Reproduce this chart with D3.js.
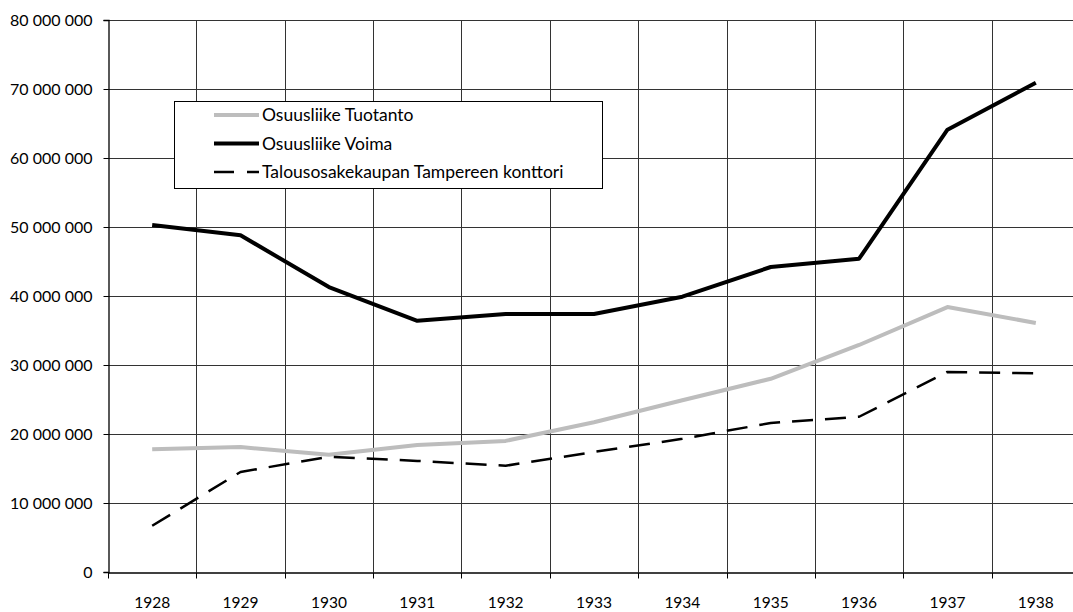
<!DOCTYPE html>
<html>
<head>
<meta charset="utf-8">
<script src="https://cdn.jsdelivr.net/npm/d3@7"></script>
<style>
  body { margin: 0; background: #fff; }
  text { font-family: Lato, "Open Sans", sans-serif; fill: #000; }
</style>
</head>
<body>
<div id="chart"></div>
<script>
var years = [1928, 1929, 1930, 1931, 1932, 1933, 1934, 1935, 1936, 1937, 1938];
var tuotanto = [17.8, 18.1, 17.0, 18.4, 19.0, 21.7, 24.9, 28.0, 32.9, 38.4, 36.1].map(function(v){ return v * 1e6; });
var voima = [50.3, 48.8, 41.3, 36.4, 37.4, 37.4, 39.9, 44.2, 45.4, 64.1, 70.9].map(function(v){ return v * 1e6; });
var talous = [6.7, 14.5, 16.7, 16.1, 15.4, 17.4, 19.3, 21.6, 22.5, 29.0, 28.8].map(function(v){ return v * 1e6; });
var seriesNames = ["Osuusliike Tuotanto", "Osuusliike Voima", "Talousosakekaupan Tampereen konttori"];
var yTicks = [0, 10e6, 20e6, 30e6, 40e6, 50e6, 60e6, 70e6, 80e6];

var width = 1073, height = 612;
var mLeft = 108, mRight = 1080, mTop = 20, mBottom = 572;

var svg = d3.select("#chart").append("svg")
	.attr("width", width)
	.attr("height", height);

var x = d3.scaleBand().domain(years).range([mLeft, mRight]);
var y = d3.scaleLinear().domain([0, 80e6]).range([mBottom, mTop]);

var fmt = function(d) { return d3.format(",")(d).replace(/,/g, " "); };

// horizontal grid
svg.append("g").selectAll("line")
	.data(yTicks.slice(1))
	.enter().append("line")
	.attr("x1", mLeft).attr("x2", mRight)
	.attr("y1", function(d){ return Math.round(y(d)) + 0.5; })
	.attr("y2", function(d){ return Math.round(y(d)) + 0.5; })
	.attr("stroke", "#333").attr("stroke-width", 1);

// vertical grid
svg.append("g").selectAll("line")
	.data(years.slice(1))
	.enter().append("line")
	.attr("x1", function(d){ return Math.round(x(d)) + 0.5; })
	.attr("x2", function(d){ return Math.round(x(d)) + 0.5; })
	.attr("y1", mTop).attr("y2", mBottom)
	.attr("stroke", "#333").attr("stroke-width", 1);

// y axis
var yAxis = svg.append("g")
	.attr("transform", "translate(" + (mLeft + 0.5) + ",0)")
	.call(d3.axisLeft(y).tickValues(yTicks).tickFormat(fmt).tickSize(5).tickPadding(11));
yAxis.select(".domain").attr("stroke", "#000").attr("stroke-width", 1.3);
yAxis.selectAll(".tick line").attr("stroke", "#000");
yAxis.selectAll("text").style("font-size", "16px").style("font-family", "Lato, sans-serif");

// x axis
var xAxis = svg.append("g")
	.attr("transform", "translate(0," + (mBottom + 0.5) + ")")
	.call(d3.axisBottom(x).tickSize(0).tickPadding(24));
xAxis.select(".domain").attr("stroke", "#000").attr("stroke-width", 1.3);
xAxis.selectAll("text").style("font-size", "15.5px").style("font-family", "Lato, sans-serif");
xAxis.selectAll(".sep")
	.data(years.concat([null]))
	.enter().append("line")
	.attr("x1", function(d, i){ return Math.round(mLeft + i * x.step()) + 0.5; })
	.attr("x2", function(d, i){ return Math.round(mLeft + i * x.step()) + 0.5; })
	.attr("y1", 0).attr("y2", 6)
	.attr("stroke", "#000");

var line = d3.line()
	.x(function(d, i){ return x(years[i]) + x.bandwidth() / 2; })
	.y(function(d){ return y(d); });

var styles = [
	{ data: tuotanto, color: "#bdbdbd", w: 4, dash: null },
	{ data: voima, color: "#000", w: 4, dash: null },
	{ data: talous, color: "#000", w: 2.5, dash: "21,12" }
];

styles.forEach(function(s) {
	svg.append("path")
		.attr("d", line(s.data))
		.attr("fill", "none")
		.attr("stroke", s.color)
		.attr("stroke-width", s.w)
		.attr("stroke-linejoin", "round")
		.attr("stroke-dasharray", s.dash);
});

// legend
var lg = svg.append("g");
lg.append("rect")
	.attr("x", 174.5).attr("y", 101.5)
	.attr("width", 428).attr("height", 87)
	.attr("fill", "#fff").attr("stroke", "#000").attr("stroke-width", 1);
styles.forEach(function(s, i) {
	var ly = 115 + i * 28.5;
	lg.append("line")
		.attr("x1", 214).attr("x2", 259)
		.attr("y1", ly).attr("y2", ly)
		.attr("stroke", s.color)
		.attr("stroke-width", s.w)
		.attr("stroke-dasharray", s.dash ? "20,13" : null);
	lg.append("text")
		.attr("x", 262).attr("y", ly)
		.attr("dy", "0.35em")
		.style("font-size", "17.5px")
		.text(seriesNames[i]);
});
</script>
</body>
</html>
